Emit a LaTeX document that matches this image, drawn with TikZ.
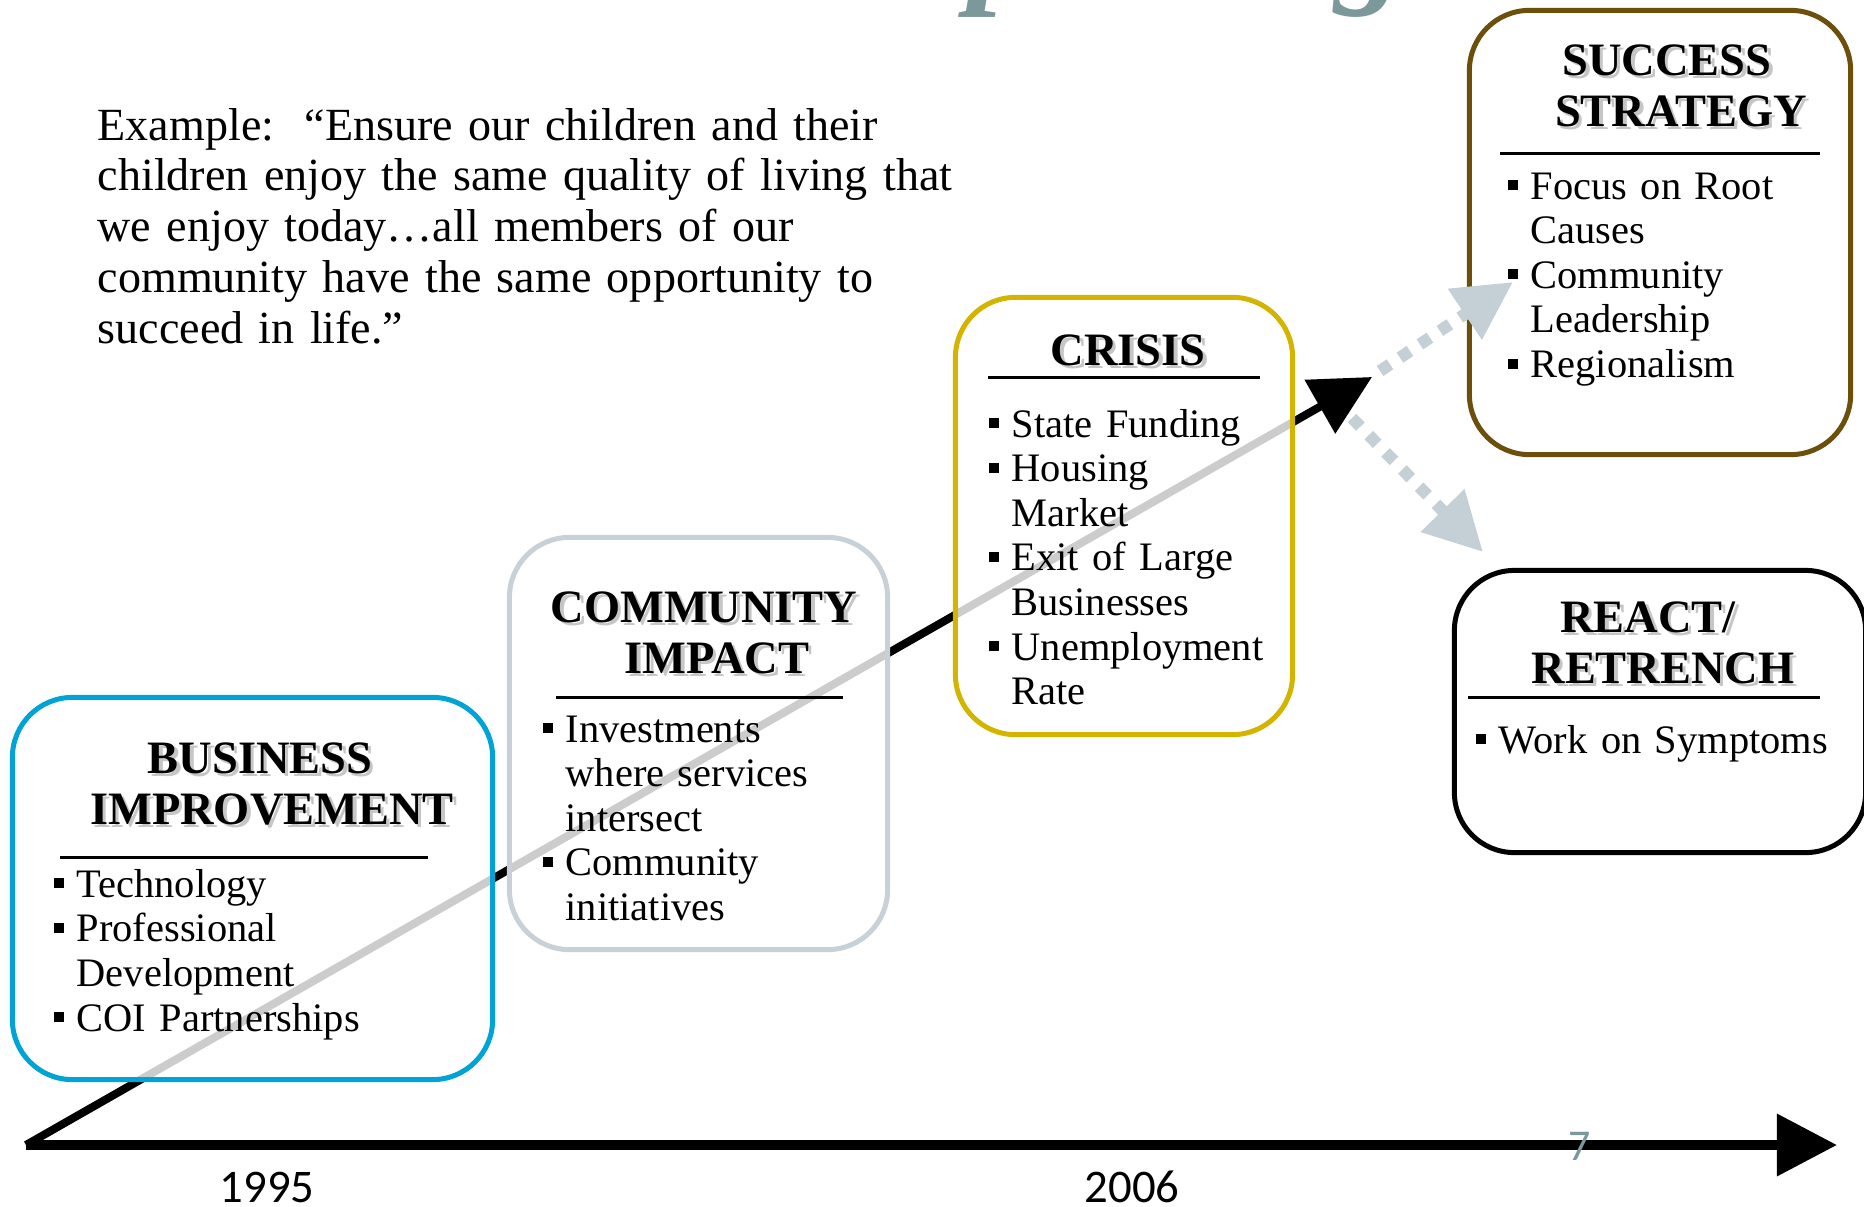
\documentclass[tikz,border=0pt]{standalone}
\usepackage{fontspec}
\setmainfont{Liberation Serif}[WordSpace=0.8]
\newfontfamily\yearfont{Carlito}
\usetikzlibrary{arrows.meta}
\definecolor{bizblue}{RGB}{0,163,214}
\definecolor{impactgray}{RGB}{200,209,215}
\definecolor{crisisgold}{RGB}{211,180,0}
\definecolor{successbrown}{RGB}{107,79,10}
\definecolor{outcomeblue}{RGB}{196,207,214}
\definecolor{titleteal}{RGB}{123,152,155}
\newcommand{\bul}{\makebox[0.23cm][l]{\rule[0.09cm]{0.1cm}{0.1cm}}}
\newcommand{\cont}{\hspace*{0.23cm}}
\newcommand{\stagehead}[3]{%
  \node[heading, headshadow] (#1-shadow) at #2 {#3};
  \node[heading] (#1-head) at #2 {#3};}
\tikzset{
    stage/.style={rounded corners=0.6cm, line width=0.05cm, fill=white, fill opacity=0.8, inner sep=0pt}, % the five boxes
    heading/.style={anchor=base, align=center, text width=5cm, inner sep=0pt, font=\fontsize{13.2}{14.6}\selectfont\bfseries},
    headshadow/.style={text=gray!45, xshift=0.035cm, yshift=-0.035cm}, % soft shadow behind the titles
    items/.style={anchor=base west, align=left, text width=4cm, inner sep=0pt, font=\fontsize{11.5}{12.7}\selectfont},
    rule/.style={line width=0.03cm},
    trend/.style={line width=0.08cm, -{Triangle[length=0.6cm, width=0.6cm]}},
    timeline/.style={line width=0.1cm, -{Triangle[length=0.6cm, width=0.6cm]}},
    outcome/.style={draw=outcomeblue, line width=0.12cm, dash pattern=on 0.12cm off 0.12cm, -{Triangle[length=0.58cm, width=0.58cm]}},
    year/.style={anchor=base, inner sep=0pt, font=\yearfont\fontsize{13.3}{13.3}\selectfont},
    titlebit/.style={anchor=base west, inner sep=0pt, text=titleteal, font=\fontsize{40}{40}\selectfont\bfseries\itshape},
}

\begin{document}
\begin{tikzpicture}[x=0.01cm, y=-0.01cm]
    \useasboundingbox (0,0) rectangle (1864,1206);
    \clip (0,0) rectangle (1864,1206);

    % title cut off at the top
    \node[titlebit] (title-p) at (968,-12) {p};
    \node[titlebit] (title-g) at (1335,-12) {g};

    \node[anchor=base west, align=left, text width=10cm, inner sep=0pt, font=\fontsize{13.1}{14.5}\selectfont] (vision) at (97,140)
        {Example:\ \ “Ensure our children and their\\
         children enjoy the same quality of living that\\
         we enjoy today…all members of our\\
         community have the same opportunity to\\
         succeed in life.”};

    \coordinate (start) at (26,1145);
    \coordinate (peak) at (1372,377);
    \coordinate (axisend) at (1837,1145);
    \draw[trend] (start) -- (peak);
    \draw[timeline] (start) -- (axisend);

    \node[stage, draw=bizblue, minimum width=4.8cm, minimum height=3.82cm] (business) at (252.5,888.5) {};
    \node[stage, draw=impactgray, minimum width=3.78cm, minimum height=4.12cm] (community) at (698.5,743.5) {};
    \node[stage, draw=crisisgold, minimum width=3.37cm, minimum height=4.37cm] (crisis) at (1124,516) {};
    \node[stage, draw=successbrown, minimum width=3.81cm, minimum height=4.44cm] (success) at (1660,232.5) {};
    \node[stage, draw=black, minimum width=4.11cm, minimum height=2.82cm] (react) at (1660,711.5) {};

    \coordinate (upstart) at (1380,371);
    \coordinate (upend) at (1513,282);
    \coordinate (downstart) at (1352,418);
    \coordinate (downend) at (1483,552);
    \draw[outcome] (upstart) -- (upend);
    \draw[outcome] (downstart) -- (downend);

    \stagehead{business}{(260,773)}{BUSINESS\\\hspace*{0.24cm}IMPROVEMENT}
    \draw[rule] (60,857) -- (428,857);
    \node[items] (business-list) at (53,897)
        {\bul Technology\\ \bul Professional\\ \cont Development\\ \bul COI Partnerships};

    \stagehead{community}{(704,622)}{COMMUNITY\\\hspace*{0.26cm}IMPACT}
    \draw[rule] (556,697) -- (843,697);
    \node[items] (community-list) at (542,742)
        {\bul Investments\\ \cont where services\\ \cont intersect\\ \bul Community\\ \cont initiatives};

    \stagehead{crisis}{(1128,365)}{CRISIS}
    \draw[rule] (988,377) -- (1260,377);
    \node[items] (crisis-list) at (988,437)
        {\bul State Funding\\ \bul Housing\\ \cont Market\\ \bul Exit of Large\\ \cont Businesses\\ \bul Unemployment\\ \cont Rate};

    \stagehead{success}{(1667,75)}{SUCCESS\\\hspace*{0.28cm}STRATEGY}
    \draw[rule] (1500,153) -- (1820,153);
    \node[items] (success-list) at (1507,199)
        {\bul Focus on Root\\ \cont Causes\\ \bul Community\\ \cont Leadership\\ \bul Regionalism};

    \stagehead{react}{(1648,632)}{REACT/\\\hspace*{0.3cm}RETRENCH}
    \draw[rule] (1468,697) -- (1820,697);
    \node[items] (react-list) at (1475,753) {\bul Work on Symptoms};

    \node[year] (y1995) at (267,1202) {1995};
    \node[year] (y2006) at (1132,1202) {2006};
    \node[year, text=titleteal, font=\yearfont\fontsize{12.5}{12.5}\selectfont] (pageno) at (1580,1160) {7};
\end{tikzpicture}
\end{document}
